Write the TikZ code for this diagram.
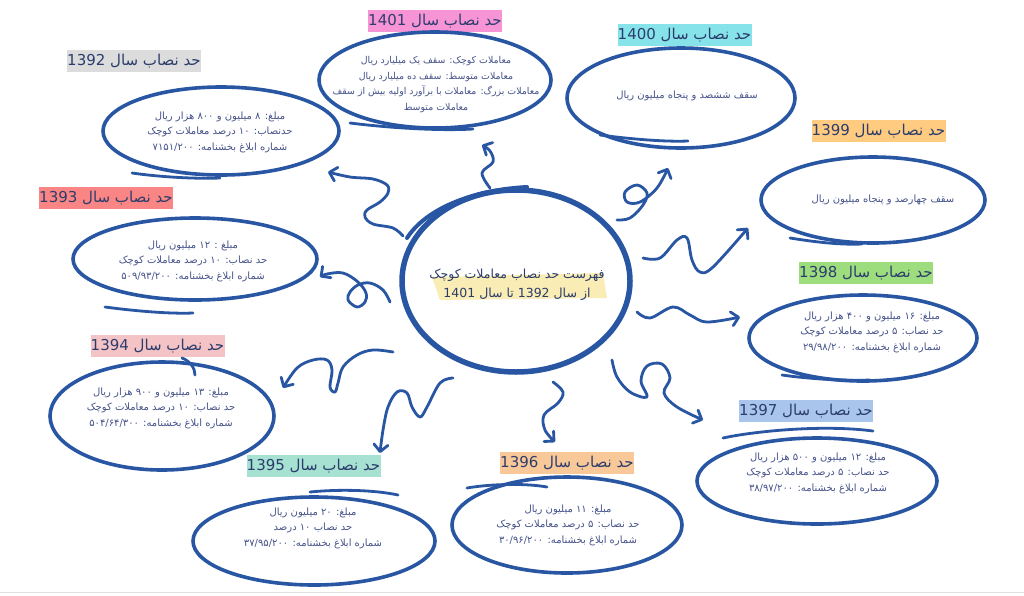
\documentclass[tikz,border=0pt]{standalone}
\usepackage{fontspec}
\newfontfamily\farsi[Script=Arabic]{DejaVu Sans}
\TeXXeTstate=1
\usetikzlibrary{shapes.geometric,arrows.meta}
\definecolor{ink}{HTML}{2856A3}
\definecolor{titlecol}{HTML}{2C3D6C}
\definecolor{bodycol}{HTML}{45528A}
\definecolor{hA}{HTML}{F794D6}
\definecolor{hB}{HTML}{86E3EA}
\definecolor{hC}{HTML}{FFCB80}
\definecolor{hD}{HTML}{9EDD7E}
\definecolor{hE}{HTML}{A9C5EC}
\definecolor{hF}{HTML}{F9C898}
\definecolor{hG}{HTML}{A6E1D2}
\definecolor{hH}{HTML}{F3C3C6}
\definecolor{hI}{HTML}{F98585}
\definecolor{hJ}{HTML}{DCDCDC}
\definecolor{hK}{HTML}{F9EDB5}
\newcommand{\rl}[1]{\beginR#1\endR}
\begin{document}
\begin{tikzpicture}[x=1pt,y=-1pt,
  ell/.style={ellipse,draw=ink,line width=3.6pt,inner sep=0pt},
  extra/.style={draw=ink,line width=2.8pt,line cap=round},
  conn/.style={draw=ink,line width=2.8pt,line cap=round,line join=round,-{Straight Barb[length=7pt,width=14pt,round]}},
  ttl/.style={font=\farsi\fontsize{15}{18}\selectfont,text=titlecol,minimum width=134pt,minimum height=22pt,inner sep=0pt},
  body/.style={font=\farsi\fontsize{10}{15.5}\selectfont,text=bodycol,align=center,inner sep=0pt},
]
\useasboundingbox (0,0) rectangle (1024,595);
\fill[white] (0,0) rectangle (1024,595);
\draw[black!12,line width=1pt] (0,592) -- (1024,592);

% center
\fill[hK] (432,277) -- (603,273) -- (607,298) -- (440,300) -- cycle;
\node[ell,line width=5.5pt,minimum width=228pt,minimum height=182pt] (c) at (516,281) {};
\draw[extra,line width=4pt] (407,238) .. controls (425,210) and (470,190) .. (527,187);
\node[body,font=\farsi\fontsize{12.5}{19}\selectfont,text=titlecol] (ct) at (517,285)
  {\rl{فهرست حد نصاب معاملات کوچک}\\ \rl{از سال 1392 تا سال 1401}};

% 1401
\node[ttl,fill=hA] (t1401) at (435,21) {\rl{حد نصاب سال 1401}};
\node[ell,minimum width=232pt,minimum height=96pt] (e1401) at (435,80) {};
\draw[extra] (350,123) .. controls (390,128) and (440,131) .. (473,129);
\node[body,font=\farsi\fontsize{9.4}{15.5}\selectfont] (x1401) at (436,84.5) {\rl{معاملات کوچک: سقف یک میلیارد ریال}\\ \rl{معاملات متوسط: سقف ده میلیارد ریال}\\ \rl{معاملات بزرگ: معاملات با برآورد اولیه بیش از سقف}\\ \rl{معاملات متوسط}};

% 1400
\node[ttl,fill=hB] (t1400) at (684.5,35) {\rl{حد نصاب سال 1400}};
\node[ell,minimum width=228pt,minimum height=100pt] (e1400) at (681,98) {};
\draw[extra] (600,135) .. controls (630,139) and (665,142) .. (688,141);
\node[body] (x1400) at (687,96) {\rl{سقف ششصد و پنجاه میلیون ریال}};

% 1399
\node[ttl,fill=hC] (t1399) at (878.5,131) {\rl{حد نصاب سال 1399}};
\node[ell,minimum width=224pt,minimum height=86pt] (e1399) at (873,200) {};
\draw[extra] (790,238) .. controls (815,242) and (840,245) .. (862,244);
\node[body] (x1399) at (883,200) {\rl{سقف چهارصد و پنجاه میلیون ریال}};

% 1398
\node[ttl,fill=hD] (t1398) at (866,273) {\rl{حد نصاب سال 1398}};
\node[ell,minimum width=228pt,minimum height=86pt] (e1398) at (863,338) {};
\draw[extra] (782,375) .. controls (810,379) and (845,381) .. (870,380);
\node[body] (x1398) at (872,332) {\rl{مبلغ: ۱۶ میلیون و ۴۰۰ هزار ریال}\\ \rl{حد نصاب: ۵ درصد معاملات کوچک}\\ \rl{شماره ابلاغ بخشنامه: ۲۹/۹۸/۲۰۰}};

% 1397
\node[ttl,fill=hE] (t1397) at (806,411) {\rl{حد نصاب سال 1397}};
\node[ell,minimum width=240pt,minimum height=86pt] (e1397) at (817,481) {};
\draw[extra] (723,438) .. controls (750,432) and (820,424) .. (873,431);
\node[body] (x1397) at (818,473) {\rl{مبلغ: ۱۲ میلیون و ۵۰۰ هزار ریال}\\ \rl{حد نصاب: ۵ درصد معاملات کوچک}\\ \rl{شماره ابلاغ بخشنامه: ۳۸/۹۷/۲۰۰}};

% 1396
\node[ttl,fill=hF] (t1396) at (567,463) {\rl{حد نصاب سال 1396}};
\node[ell,minimum width=230pt,minimum height=96pt] (e1396) at (567,525) {};
\draw[extra] (467,488) .. controls (490,484) and (525,483) .. (547,487);
\node[body] (x1396) at (568,525) {\rl{مبلغ: ۱۱ میلیون ریال}\\ \rl{حد نصاب: ۵ درصد معاملات کوچک}\\ \rl{شماره ابلاغ بخشنامه: ۳۰/۹۶/۲۰۰}};

% 1395
\node[ttl,fill=hG] (t1395) at (313.5,466) {\rl{حد نصاب سال 1395}};
\node[ell,minimum width=242pt,minimum height=88pt] (e1395) at (314,541) {};
\draw[extra] (310,492) .. controls (340,489) and (375,490) .. (398,495);
\node[body] (x1395) at (313,528) {\rl{مبلغ: ۲۰ میلیون ریال}\\ \rl{حد نصاب ۱۰ درصد}\\ \rl{شماره ابلاغ بخشنامه: ۳۷/۹۵/۲۰۰}};

% 1394
\node[ttl,fill=hH] (t1394) at (157.5,346) {\rl{حد نصاب سال 1394}};
\node[ell,minimum width=224pt,minimum height=108pt] (e1394) at (162,416) {};
\draw[extra] (182,358) .. controls (190,361) and (195,368) .. (195,375);
\node[body] (x1394) at (161,408) {\rl{مبلغ: ۱۳ میلیون و ۹۰۰ هزار ریال}\\ \rl{حد نصاب: ۱۰ درصد معاملات کوچک}\\ \rl{شماره ابلاغ بخشنامه: ۵۰۴/۶۴/۳۰۰}};

% 1393
\node[ttl,fill=hI] (t1393) at (106,198) {\rl{حد نصاب سال 1393}};
\node[ell,minimum width=244pt,minimum height=82pt] (e1393) at (195,259) {};
\draw[extra] (105,307) .. controls (135,311) and (170,314) .. (193,313);
\node[body] (x1393) at (193,261) {\rl{مبلغ : ۱۲ میلیون ریال}\\ \rl{حد نصاب: ۱۰ درصد معاملات کوچک}\\ \rl{شماره ابلاغ بخشنامه: ۵۰۹/۹۳/۲۰۰}};

% 1392
\node[ttl,fill=hJ] (t1392) at (134,61) {\rl{حد نصاب سال 1392}};
\node[ell,minimum width=236pt,minimum height=88pt] (e1392) at (221,131) {};
\draw[extra] (132,173) .. controls (160,177) and (195,179) .. (220,178);
\node[body] (x1392) at (220,132) {\rl{مبلغ: ۸ میلیون و ۸۰۰ هزار ریال}\\ \rl{حدنصاب: ۱۰ درصد معاملات کوچک}\\ \rl{شماره ابلاغ بخشنامه: ۷۱۵۱/۲۰۰}};

% connector end points
\coordinate (s1401) at (490,188); \coordinate (h1401) at (482,145);
\coordinate (s1400) at (617,220); \coordinate (h1400) at (668,168);
\coordinate (s1399) at (643,258); \coordinate (h1399) at (748,228);
\coordinate (s1398) at (637,312); \coordinate (h1398) at (740,317);
\coordinate (s1397) at (612,360); \coordinate (h1397) at (703,420);
\coordinate (s1396) at (553,382); \coordinate (h1396) at (555,442);
\coordinate (s1395) at (453,378); \coordinate (h1395) at (380,453);
\coordinate (s1394) at (393,352); \coordinate (h1394) at (283,388);
\coordinate (s1393) at (390,302); \coordinate (h1393) at (320,277);
\coordinate (s1392) at (403,236); \coordinate (h1392) at (328,172);

\draw[conn] plot[smooth,tension=0.6] coordinates {(s1401) (482,173) (493,162) (490,151) (h1401)};
\draw[conn] plot[smooth,tension=0.6] coordinates {(s1400) (630,218) (643,205) (647,193) (637,185) (625,192) (627,202) (640,202) (657,188) (h1400)};
\draw[conn] plot[smooth,tension=0.6] coordinates {(s1399) (660,258) (677,240) (687,238) (692,260) (700,272) (713,267) (h1399)};
\draw[conn] plot[smooth,tension=0.6] coordinates {(s1398) (650,318) (673,307) (690,315) (707,322) (h1398)};
\draw[conn] plot[smooth,tension=0.6] coordinates {(s1397) (617,377) (630,392) (647,397) (641,381) (647,366) (662,364) (670,378) (664,393) (677,407) (h1397)};
\draw[conn] plot[smooth,tension=0.6] coordinates {(s1396) (563,392) (558,403) (544,415) (545,430) (h1396)};
\draw[conn] plot[smooth,tension=0.6] coordinates {(s1395) (440,383) (427,407) (420,417) (412,407) (407,393) (397,392) (388,407) (383,430) (h1395)};
\draw[conn] plot[smooth,tension=0.6] coordinates {(s1394) (373,350) (357,355) (343,367) (338,383) (335,392) (330,387) (332,370) (327,360) (313,360) (297,368) (h1394)};
\draw[conn] plot[smooth,tension=0.6] coordinates {(s1393) (383,290) (370,283) (358,285) (350,292) (348,300) (357,307) (365,302) (366,293) (358,282) (343,273) (327,274) (h1393)};
\draw[conn] plot[smooth,tension=0.6] coordinates {(s1392) (393,228) (373,224) (365,217) (367,210) (380,202) (388,193) (387,185) (373,179) (350,177) (h1392)};
\end{tikzpicture}
\end{document}
